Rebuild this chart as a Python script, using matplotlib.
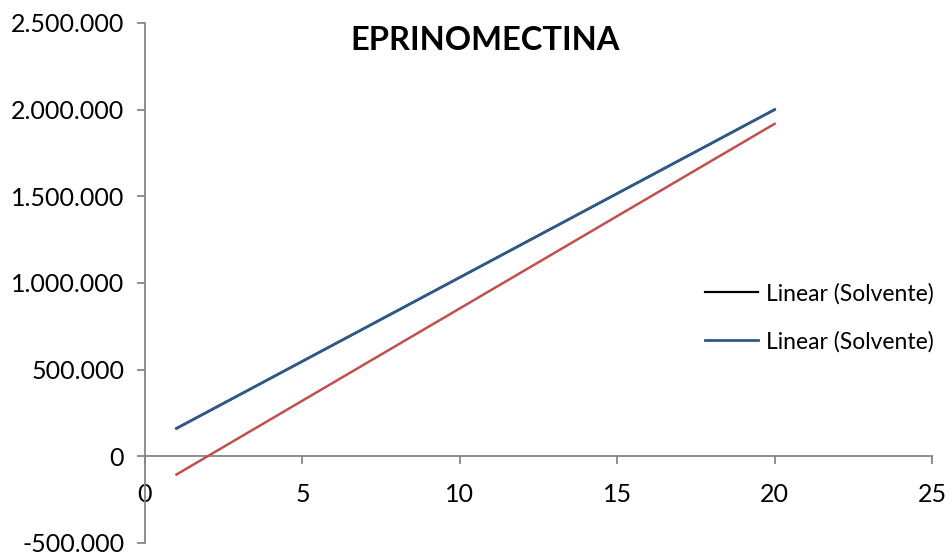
import numpy as np
import matplotlib
matplotlib.use("Agg")
import matplotlib.pyplot as plt
from matplotlib.ticker import FuncFormatter

# trend line endpoints
x_fit = [1, 20]
solv_black = [161000, 2000000]
solv_blue = [161000, 2000000]
matriz_red = [-105000, 1918000]
title = "EPRINOMECTINA"
leg_labels = ["Linear (Solvente)", "Linear (Solvente)"]

plt.rcParams["font.family"] = ["Lato", "DejaVu Sans"]
fig = plt.figure(figsize=(9.52, 5.58), dpi=100)
ax = fig.add_axes([0.1523, 0.0269, 0.8267, 0.932])

l1, = ax.plot(x_fit, solv_black, color="black", lw=1.6, zorder=2)
l2, = ax.plot(x_fit, solv_blue, color="#2f5b8a", lw=2.0, zorder=3)
ax.plot(x_fit, matriz_red, color="#c0504d", lw=1.8, zorder=3)

ax.set_xlim(0, 25); ax.set_ylim(-500000, 2500000)
ax.set_xticks(np.arange(0, 26, 5)); ax.set_yticks(np.arange(-500000, 2500001, 500000))
ax.yaxis.set_major_formatter(FuncFormatter(lambda v, p: "0" if v == 0 else f"{v:,.0f}".replace(",", ".")))
for s in ["top", "right"]:
    ax.spines[s].set_visible(False)
ax.spines["bottom"].set_position(("data", 0))
ax.spines["left"].set_position(("data", 0))
for s in ["bottom", "left"]:
    ax.spines[s].set_color("#868686"); ax.spines[s].set_linewidth(1.3)
ax.tick_params(axis="both", colors="#868686", labelcolor="black", labelsize=18, width=1.3, length=6)
ax.tick_params(axis="x", pad=13)
ax.tick_params(axis="y", pad=9)

fig.text(0.51, 0.927, title, ha="center", va="center", fontsize=23.5, fontweight="bold")
ax.legend([l1, l2], leg_labels, loc="center left", bbox_to_anchor=(0.7405, 0.431), bbox_transform=fig.transFigure,
          frameon=False, fontsize=16.5, handlelength=2.3, handletextpad=0.35, labelspacing=1.15,
          borderpad=0, borderaxespad=0)

fig.savefig("out.png", dpi=100)
